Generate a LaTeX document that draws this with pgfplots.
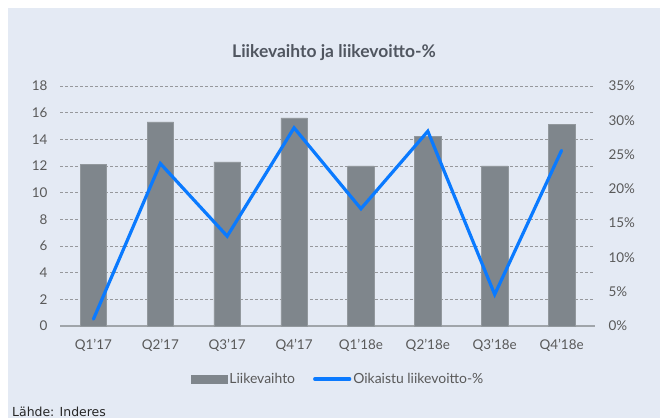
\documentclass[border=0pt]{standalone}
\usepackage{pgfplots}
\pgfplotsset{compat=1.18}
\usepackage{fontspec}
\setmainfont{Lato}
\newfontfamily\srcfont{DejaVu Sans}
\definecolor{bgcol}{RGB}{228,234,244}
\definecolor{barcol}{RGB}{127,134,140}
\definecolor{linecol}{RGB}{10,122,255}
\definecolor{txtcol}{RGB}{89,89,89}
\definecolor{titlecol}{RGB}{80,86,96}
\definecolor{gridcol}{RGB}{150,152,156}
\definecolor{basecol}{RGB}{160,165,170}
\begin{document}
\begin{tikzpicture}[x=1bp,y=1bp]
\useasboundingbox (0,0) rectangle (660,418);
\fill[white] (0,0) rectangle (660,418);
\fill[bgcol] (8,0) rectangle (660,410);
\node[font=\fontsize{17.5}{19}\selectfont\bfseries, text=titlecol] at (334,365.5) {Liikevaihto ja liikevoitto-\%};
\node[anchor=base west, inner sep=0pt, font=\srcfont\fontsize{12.5}{14}\selectfont, text=black!85] at (12,1.5) {Lähde: Inderes};
\begin{axis}[
  at={(60bp,92bp)}, anchor=south west,
  scale only axis, width=535bp, height=240bp,
  xmin=-0.5, xmax=7.5, ymin=0, ymax=18,
  xtick={0,...,7},
  xticklabels={Q1'17,Q2'17,Q3'17,Q4'17,Q1'18e,Q2'18e,Q3'18e,Q4'18e},
  ytick={0,2,...,18},
  axis x line*=bottom, axis y line*=left,
  x axis line style={draw=basecol, line width=1.2bp, -},
  y axis line style={draw=none},
  major tick length=0pt,
  ymajorgrids,
  grid style={gridcol, line width=0.8bp, dash pattern=on 3bp off 2bp},
  tick label style={font=\fontsize{13.5}{15}\selectfont, text=txtcol},
  /pgf/number format/assume math mode=true,
  xticklabel style={yshift=-10bp},
  yticklabel style={xshift=-9bp},
  clip=false,
]
\addplot[ybar, bar width=26.5bp, fill=barcol, draw=barcol!85!white, line width=0.5bp]
  coordinates {(0,12.1) (1,15.3) (2,12.3) (3,15.6) (4,12.0) (5,14.2) (6,12.0) (7,15.1)};
\end{axis}
\begin{axis}[
  at={(60bp,92bp)}, anchor=south west,
  scale only axis, width=535bp, height=240bp,
  xmin=-0.5, xmax=7.5, ymin=0, ymax=35,
  axis x line=none, axis y line*=right,
  y axis line style={draw=none},
  major tick length=0pt,
  ytick={0,5,...,35},
  yticklabels={0\%,5\%,10\%,15\%,20\%,25\%,30\%,35\%},
  tick label style={font=\fontsize{13.5}{15}\selectfont, text=txtcol},
  yticklabel style={xshift=10bp},
  legend style={at={(0.52,-0.221)}, anchor=center, draw=none, fill=none,
    font=\fontsize{14}{16}\selectfont, text=txtcol,
    /tikz/every even column/.append style={column sep=16bp}},
  legend columns=2,
  clip=false,
]
\addlegendimage{legend image code/.code={\fill[barcol] (0bp,-3.7bp) rectangle (36bp,3.7bp);}}
\addlegendentry{Liikevaihto}
\addplot[linecol, line width=3.2bp, line cap=round, line join=miter,
  legend image code/.code={\draw[linecol, line width=3.2bp, line cap=round] (1bp,0bp) -- (36bp,0bp);}]
  coordinates {(0,1.0) (1,23.7) (2,13.1) (3,28.9) (4,17.1) (5,28.4) (6,4.6) (7,25.6)};
\addlegendentry{Oikaistu liikevoitto-\%}
\end{axis}
\end{tikzpicture}
\end{document}
